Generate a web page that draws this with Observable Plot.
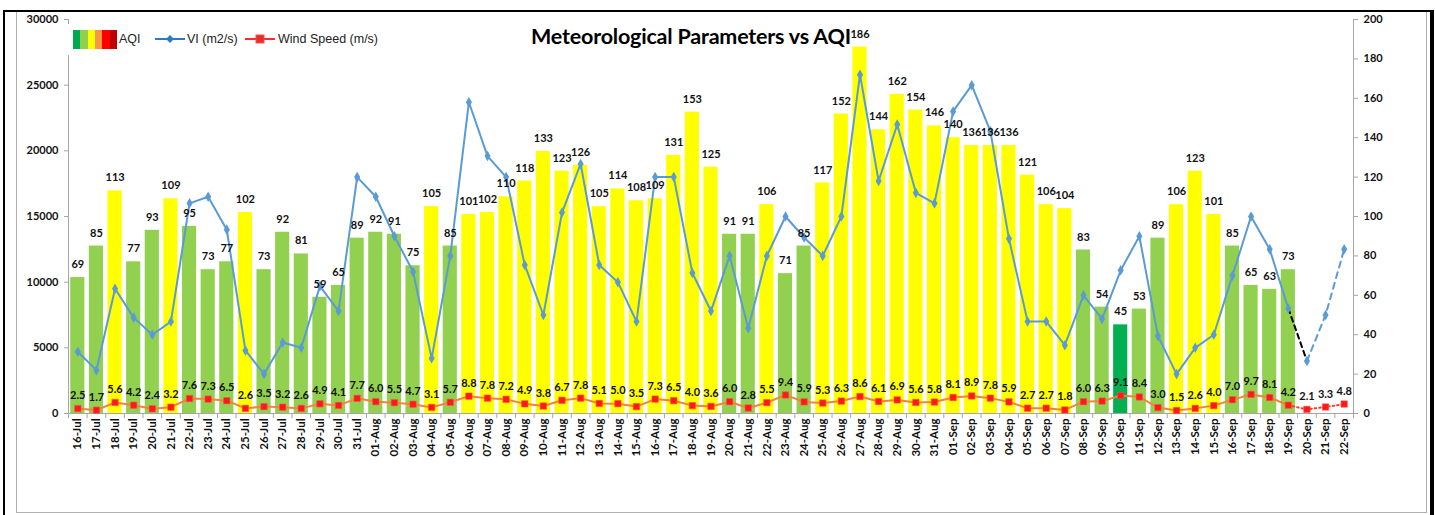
<!DOCTYPE html>
<html><head><meta charset="utf-8">
<script src="https://cdn.jsdelivr.net/npm/d3@7"></script>
<script src="https://cdn.jsdelivr.net/npm/@observablehq/plot@0.6"></script>
<style>
body{margin:0;background:#fff}
#wrap{position:relative;width:1435px;height:515px;overflow:hidden;font-family:Lato,sans-serif;background:#fff}
#chart{position:absolute;left:0;top:0}
#outer{position:absolute;left:3px;top:10px;width:1425px;height:520px;border-left:2px solid #000;border-top:2px solid #000;border-right:4px solid #000}
#inner{position:absolute;left:16px;top:12px;width:1409px;height:500px;border:1px solid #b0b0b0;border-top:none}
#title{position:absolute;left:0;top:23px;width:1382px;text-align:center;font:bold 21.5px Lato,sans-serif;color:#000;letter-spacing:-0.2px}
#legend{position:absolute;left:66px;top:24px;width:300px;height:31px;background:#fff;font:12.5px "Liberation Sans Narrow",sans-serif;color:#222}
.sw{position:absolute;top:6px;height:19px}
.lt{position:absolute;top:8px;white-space:nowrap}
</style></head><body>
<div id="wrap">
  <div id="chart"></div>
  <div id="outer"></div><div id="inner"></div>
  <div id="title">Meteorological Parameters vs AQI</div>
  <div id="legend">
    <div class="sw" style="left:7px;width:7px;background:#00a84f"></div>
    <div class="sw" style="left:14px;width:8px;background:#8fd14f"></div>
    <div class="sw" style="left:22px;width:7px;background:#ffff00"></div>
    <div class="sw" style="left:29px;width:7px;background:#f79646"></div>
    <div class="sw" style="left:36px;width:8px;background:#ff0000"></div>
    <div class="sw" style="left:44px;width:7px;background:#c00000"></div>
    <div class="lt" style="left:53px">AQI</div>
    <svg style="position:absolute;left:87px;top:8px" width="34" height="14"><line x1="2" y1="7" x2="32" y2="7" stroke="#2f78c4" stroke-width="2"/><path d="M17 3 L21 7 L17 11 L13 7Z" fill="#2f78c4"/></svg>
    <div class="lt" style="left:121px">VI (m2/s)</div>
    <svg style="position:absolute;left:177px;top:8px" width="34" height="14"><line x1="2" y1="7" x2="32" y2="7" stroke="#ff2a2a" stroke-width="2"/><rect x="13" y="3" width="8" height="8" fill="#e03030" stroke="#ff4d4d"/></svg>
    <div class="lt" style="left:212px">Wind Speed (m/s)</div>
  </div>
</div>
<script>
const dates = ["16-Jul","17-Jul","18-Jul","19-Jul","20-Jul","21-Jul","22-Jul","23-Jul","24-Jul","25-Jul","26-Jul","27-Jul","28-Jul","29-Jul","30-Jul","31-Jul",
"01-Aug","02-Aug","03-Aug","04-Aug","05-Aug","06-Aug","07-Aug","08-Aug","09-Aug","10-Aug","11-Aug","12-Aug","13-Aug","14-Aug","15-Aug","16-Aug","17-Aug","18-Aug","19-Aug","20-Aug","21-Aug","22-Aug","23-Aug","24-Aug","25-Aug","26-Aug","27-Aug","28-Aug","29-Aug","30-Aug","31-Aug",
"01-Sep","02-Sep","03-Sep","04-Sep","05-Sep","06-Sep","07-Sep","08-Sep","09-Sep","10-Sep","11-Sep","12-Sep","13-Sep","14-Sep","15-Sep","16-Sep","17-Sep","18-Sep","19-Sep","20-Sep","21-Sep","22-Sep"];

const aqi = [69,85,113,77,93,109,95,73,77,102,73,92,81,59,65,89,
92,91,75,105,85,101,102,110,118,133,123,126,105,114,108,109,131,153,125,91,91,106,71,85,117,152,186,144,162,154,146,
140,136,136,136,121,106,104,83,54,45,53,89,106,123,101,85,65,63,73];

const vi = [4700,3300,9500,7300,6000,7000,16000,16500,14000,4800,3000,5400,5000,9700,7800,18000,
16500,13500,10800,4200,12000,23700,19600,18000,11300,7500,15300,19000,11300,10000,7000,18000,18000,10700,7800,12000,6500,12000,15000,13400,12000,15000,25800,17700,22000,16800,16000,
23000,25000,21500,13300,7000,7000,5200,9000,7200,10900,13500,5900,3000,5000,6000,10500,15000,12500,8000,4000,7500,12500];

const wind = [2.5,1.7,5.6,4.2,2.4,3.2,7.6,7.3,6.5,2.6,3.5,3.2,2.6,4.9,4.1,7.7,
6.0,5.5,4.7,3.1,5.7,8.8,7.8,7.2,4.9,3.8,6.7,7.8,5.1,5.0,3.5,7.3,6.5,4.0,3.6,6.0,2.8,5.5,9.4,5.9,5.3,6.3,8.6,6.1,6.9,5.6,5.8,
8.1,8.9,7.8,5.9,2.7,2.7,1.8,6.0,6.3,9.1,8.4,3.0,1.5,2.6,4.0,7.0,9.7,8.1,4.2,2.1,3.3,4.8];

const leftTicks = [0,5000,10000,15000,20000,25000,30000];
const rightTicks = [0,20,40,60,80,100,120,140,160,180,200];
const RATIO = 30000 / 200; // left axis max / right axis max

const rows = dates.map((d, i) => ({date: d, aqi: aqi[i], vi: vi[i], wind: wind[i]}));
const barRows = rows.filter(r => r.aqi != null);
const nObs = barRows.length; // observed days
const viSolid = rows.slice(0, nObs);
const viBridge = rows.slice(nObs - 1, nObs + 1);
const viFcst = rows.slice(nObs);
const windSolid = rows.slice(0, nObs);
const windFcst = rows.slice(nObs - 1);

const aqiColor = v => v <= 50 ? "#00b050" : v <= 100 ? "#92d050" : "#ffff00";

const W = 1435, H = 515, ML = 68, MR = 82, MT = 19, MB = 102;
const step = (W - ML - MR) / dates.length;
const lab = {fontFamily: "Lato, sans-serif", fontWeight: "bold", fontSize: 11, fill: "#111"};
const viBlue = "#5b9bd5";

const chart = Plot.plot({
  width: W, height: H,
  marginLeft: ML, marginRight: MR, marginTop: MT, marginBottom: MB,
  style: {background: "transparent", fontFamily: "Lato, sans-serif"},
  x: {type: "band", domain: dates, paddingInner: 0.24, paddingOuter: 0.12, axis: null, label: null},
  y: {domain: [0, 200], axis: null, label: null},
  color: {type: "identity"},
  marks: [
    Plot.barY(barRows, {x: "date", y: "aqi", fill: d => aqiColor(d.aqi)}),
    Plot.ruleY([0], {stroke: "#a6a6a6"}),
    Plot.frame({anchor: "left", stroke: "#a6a6a6"}),
    Plot.frame({anchor: "right", stroke: "#a6a6a6"}),
    Plot.ruleX(dates, {x: d => d, y1: 0, y2: -2.6, dx: -step / 2, stroke: "#a6a6a6"}),
    Plot.ruleX(dates.slice(-1), {x: d => d, y1: 0, y2: -2.6, dx: step / 2, stroke: "#a6a6a6"}),
    Plot.axisX({tickRotate: -90, tickSize: 0, tickPadding: 5, fontSize: 11.5, fontWeight: "bold", fill: "#111", label: null}),
    Plot.axisY(leftTicks.map(v => v / RATIO), {anchor: "left", tickSize: 4, tickPadding: 6, stroke: "#a6a6a6", label: null,
      tickFormat: d => String(Math.round(d * RATIO)), fontSize: 11, fontWeight: "bold", fill: "#111"}),
    Plot.axisY(rightTicks, {anchor: "right", tickSize: 4, tickPadding: 6, stroke: "#a6a6a6", label: null,
      fontSize: 11, fontWeight: "bold", fill: "#111"}),
    // wind speed (right axis)
    Plot.line(windSolid, {x: "date", y: "wind", stroke: "#f4823c", strokeWidth: 2}),
    Plot.line(windFcst, {x: "date", y: "wind", stroke: "#ff3a2a", strokeWidth: 2, strokeDasharray: "1.5,3"}),
    Plot.dot(rows, {x: "date", y: "wind", symbol: "square", r: 3.6, fill: "#ff1a1a", stroke: "#ff5050", strokeWidth: 0.6}),
    // VI (left axis, mapped onto right-axis units)
    Plot.line(viSolid, {x: "date", y: d => d.vi / RATIO, stroke: viBlue, strokeWidth: 2}),
    Plot.line(viBridge, {x: "date", y: d => d.vi / RATIO, stroke: "#000", strokeWidth: 2, strokeDasharray: "5,4"}),
    Plot.line(viFcst, {x: "date", y: d => d.vi / RATIO, stroke: viBlue, strokeWidth: 2, strokeDasharray: "6,5"}),
    Plot.dot(rows, {x: "date", y: d => d.vi / RATIO, symbol: "diamond", r: 3.2, fill: viBlue}),
    // labels
    Plot.text(barRows, {x: "date", y: "aqi", text: d => String(d.aqi), dy: -13, ...lab}),
    Plot.text(rows, {x: "date", y: "wind", text: d => d.wind.toFixed(1), dy: -13, ...lab})
  ]
});
document.getElementById("chart").appendChild(chart);
</script>
</body></html>
